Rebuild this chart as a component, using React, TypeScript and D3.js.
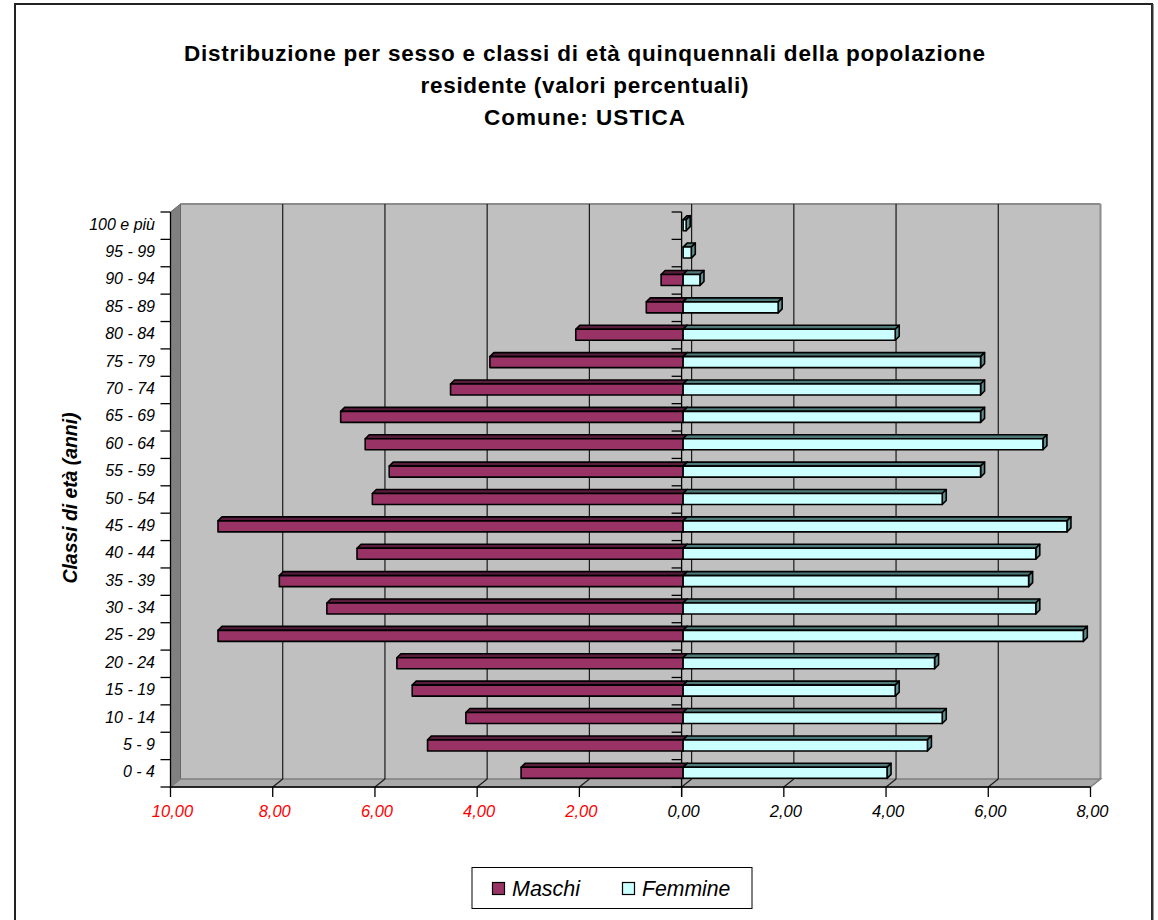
import React from "react";
import * as d3 from "d3";

const categories = ["0 - 4","5 - 9","10 - 14","15 - 19","20 - 24","25 - 29","30 - 34","35 - 39","40 - 44","45 - 49","50 - 54","55 - 59","60 - 64","65 - 69","70 - 74","75 - 79","80 - 84","85 - 89","90 - 94","95 - 99","100 e più"];
const maschi = [3.17, 5.0, 4.25, 5.3, 5.6, 9.1, 6.97, 7.9, 6.38, 9.1, 6.08, 5.75, 6.22, 6.7, 4.55, 3.78, 2.1, 0.72, 0.43, 0, 0];
const femmine = [3.99, 4.78, 5.07, 4.15, 4.92, 7.83, 6.9, 6.76, 6.9, 7.51, 5.07, 5.82, 7.04, 5.82, 5.82, 5.82, 4.15, 1.86, 0.33, 0.16, 0.06];
const xTicks = [-10, -8, -6, -4, -2, 0, 2, 4, 6, 8];
const titleLines = [
  "Distribuzione per sesso e classi di età quinquennali della popolazione",
  "residente (valori percentuali)",
  "Comune: USTICA",
];
const titleWidths = [801, 328, 201];
const yTitle = "Classi di età (anni)";
const seriesNames = ["Maschi", "Femmine"];

const FONT = "'Liberation Sans', Arial, sans-serif";
const DX = 10;
const DY = -8;
const MALE = "#993366";
const MALE_TOP = "#5a1c3c";
const MALE_SIDE = "#4a1631";
const FEM = "#ccffff";
const FEM_TOP = "#4f7a7a";
const FEM_SIDE = "#5f8f8f";

export default function App() {
  const W = 1158, H = 920;
  const x = d3.scaleLinear().domain([-10, 8]).range([170.5, 1090.5]);
  const order = categories.slice().reverse();
  const y = d3.scaleBand().domain(order).range([212, 787]);
  const bw = y.bandwidth();
  const top = 212, bottom = 787;
  const fmt = (v: number) => d3.format(".2f")(Math.abs(v)).replace(".", ",");
  const x0 = x(0);
  const bh = 11;
  const bd = 4;
  const boff = 1.5;

  const bars: React.ReactNode[] = [];
  categories.forEach((c, i) => {
    const cy = (y(c) as number) + bw / 2 - 0.5;
    const yt = cy - bh / 2;
    const yb = cy + bh / 2;
    const m = maschi[i];
    const f = femmine[i];
    const zx = x0 + boff;
    if (m > 0) {
      const xl = x(-m) + boff;
      bars.push(
        <g key={"m" + i} stroke="#000" strokeWidth={1.6} strokeLinejoin="round">
          <polygon points={`${xl},${yt} ${xl + bd},${yt - bd} ${zx + bd},${yt - bd} ${zx},${yt}`} fill={MALE_TOP} />
          <polygon points={`${zx},${yt} ${zx + bd},${yt - bd} ${zx + bd},${yb - bd} ${zx},${yb}`} fill={MALE_SIDE} />
          <rect x={xl} y={yt} width={zx - xl} height={bh} fill={MALE} />
        </g>
      );
    }
    if (f > 0) {
      const xr = x(f) + boff;
      bars.push(
        <g key={"f" + i} stroke="#000" strokeWidth={1.6} strokeLinejoin="round">
          <polygon points={`${zx},${yt} ${zx + bd},${yt - bd} ${xr + bd},${yt - bd} ${xr},${yt}`} fill={FEM_TOP} />
          <polygon points={`${xr},${yt} ${xr + bd},${yt - bd} ${xr + bd},${yb - bd} ${xr},${yb}`} fill={FEM_SIDE} />
          <rect x={zx} y={yt} width={xr - zx} height={bh} fill={FEM} />
        </g>
      );
    }
  });

  return (
    <svg width={W} height={H} style={{ position: "absolute", left: 0, top: 0, background: "#fff" }} fontFamily={FONT}>
      <rect x={15} y={4} width={1137} height={940} fill="#fff" stroke="#222" strokeWidth={2} />
      <line x1={1152.5} x2={1152.5} y1={4} y2={920} stroke="#333" strokeWidth={2} />
      {titleLines.map((t, i) => (
        <text key={i} x={584.5} y={61 + i * 32} textAnchor="middle" fontWeight="bold" fontSize={22.5} fill="#000"
          textLength={titleWidths[i]} lengthAdjust="spacing">
          {t}
        </text>
      ))}
      <rect x={x(-10) + DX} y={top + DY} width={x(8) - x(-10)} height={bottom - top} fill="#c0c0c0" />
      <line x1={x(-10) + DX} x2={x(8) + DX} y1={top + DY} y2={top + DY} stroke="#8c8c8c" strokeWidth={2} />
      <line x1={x(8) + DX} x2={x(8) + DX} y1={top + DY} y2={bottom + DY} stroke="#8c8c8c" strokeWidth={2} />
      <polygon
        points={`${x(-10)},${top} ${x(-10) + DX},${top + DY} ${x(-10) + DX},${bottom + DY} ${x(-10)},${bottom}`}
        fill="#808080"
        stroke="#666"
        strokeWidth={1}
      />
      <polygon
        points={`${x(-10)},${bottom} ${x(-10) + DX},${bottom + DY} ${x(8) + DX},${bottom + DY} ${x(8)},${bottom}`}
        fill="#a9a9a9"
        stroke="#808080"
        strokeWidth={1.5}
      />
      {xTicks.filter((t) => t > -10 && t < 8).map((t) => (
        <g key={"g" + t} stroke="#1a1a1a" strokeWidth={1.2}>
          <line x1={x(t) + DX} x2={x(t) + DX} y1={top + DY} y2={bottom + DY} />
          <line x1={x(t)} x2={x(t) + DX} y1={bottom} y2={bottom + DY} />
        </g>
      ))}
      <line x1={x(-10)} x2={x(-10)} y1={top} y2={bottom} stroke="#000" strokeWidth={1.3} />
      {order.concat([""]).map((c, i) => (
        <line key={"lt" + i} x1={x(-10) - 10} x2={x(-10)} y1={top + i * bw} y2={top + i * bw} stroke="#000" strokeWidth={1.3} />
      ))}
      {order.map((c) => (
        <text key={"yl" + c} x={155} y={(y(c) as number) + bw / 2 + 4} textAnchor="end" fontStyle="italic" fontSize={16} fill="#000">
          {c}
        </text>
      ))}
      <line x1={x0} x2={x0} y1={top} y2={bottom + 10} stroke="#000" strokeWidth={1.3} />
      {order.concat([""]).map((c, i) => (
        <line key={"ct" + i} x1={x0 - 10} x2={x0} y1={top + i * bw} y2={top + i * bw} stroke="#000" strokeWidth={1.3} />
      ))}
      {bars}
      <line x1={x(-10)} x2={x(8)} y1={bottom} y2={bottom} stroke="#000" strokeWidth={1.3} />
      {xTicks.map((t) => (
        <g key={"xt" + t}>
          <line x1={x(t)} x2={x(t)} y1={bottom} y2={bottom + 10} stroke="#000" strokeWidth={1.3} />
          <text x={x(t) + 2} y={bottom + 30} textAnchor="middle" fontStyle="italic" fontSize={16.5} fill={t < 0 ? "#ff0000" : "#000"}>
            {fmt(t)}
          </text>
        </g>
      ))}
      <text
        transform={`translate(77,498) rotate(-90)`}
        textAnchor="middle"
        fontWeight="bold"
        fontStyle="italic"
        fontSize={19.5}
        fill="#000"
        textLength={171}
        lengthAdjust="spacing"
      >
        {yTitle}
      </text>
      <rect x={472} y={867.5} width={280} height={41} fill="#fff" stroke="#000" strokeWidth={1} />
      <rect x={492.5} y={882.5} width={12} height={12} fill={MALE} stroke="#000" strokeWidth={1.2} />
      <text x={512} y={895.5} fontStyle="italic" fontSize={21.5} fill="#000">{seriesNames[0]}</text>
      <rect x={622.5} y={882.5} width={12} height={12} fill={FEM} stroke="#000" strokeWidth={1.2} />
      <text x={642} y={895.5} fontStyle="italic" fontSize={21.2} fill="#000">{seriesNames[1]}</text>
    </svg>
  );
}
